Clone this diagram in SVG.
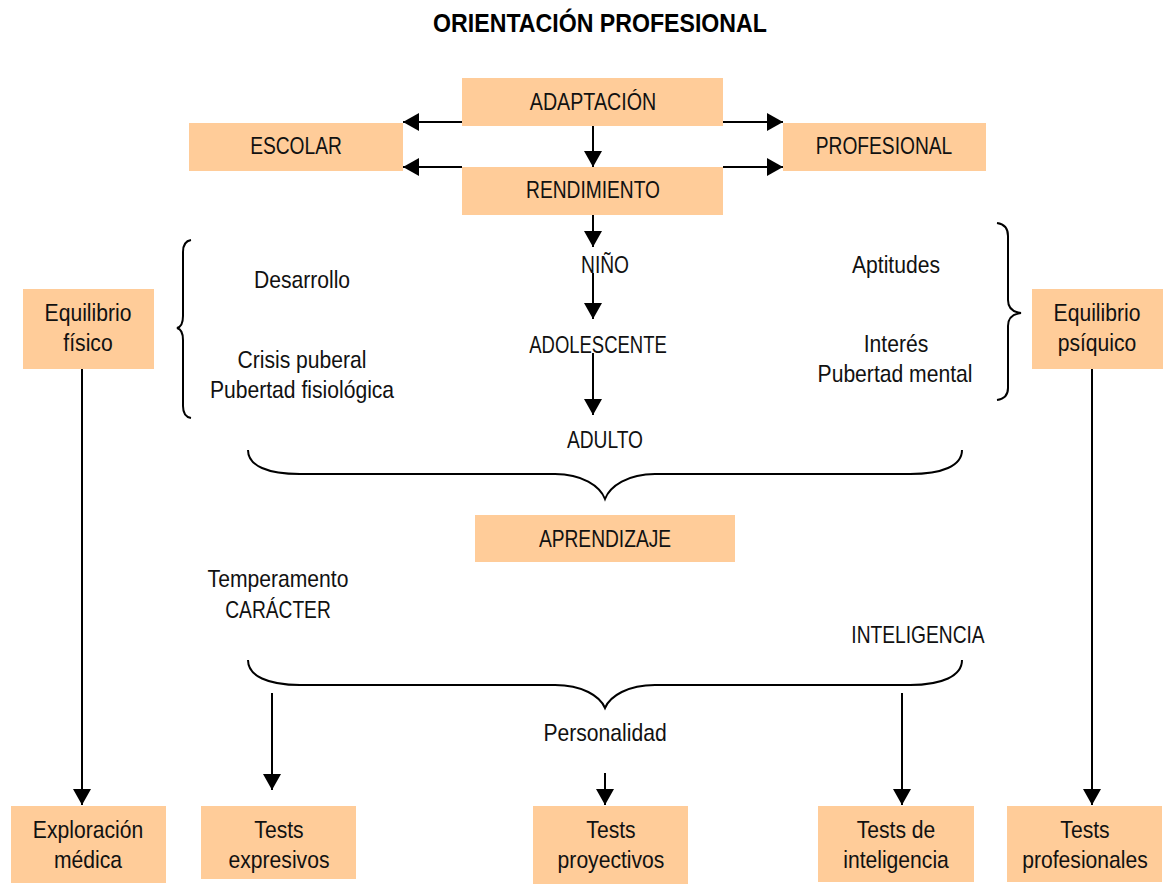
<svg xmlns="http://www.w3.org/2000/svg" width="1173" height="885" viewBox="0 0 1173 885">
  <style>
    .box { fill: #FFCC99; stroke: none; }
    .t { font-family: "Liberation Sans", Arial, sans-serif; font-size: 24px; fill: #111; text-anchor: middle; }
    .title { font-family: "Liberation Sans", Arial, sans-serif; font-size: 26px; font-weight: bold; fill: #000; text-anchor: middle; }
    .ln { stroke: #000; stroke-width: 2; fill: none; }
    .arr { stroke: #000; stroke-width: 2; fill: none; marker-end: url(#head); }
  </style>
  <defs>
    <marker id="head" viewBox="0 0 16 18" refX="16" refY="9" markerWidth="16" markerHeight="18" markerUnits="userSpaceOnUse" orient="auto">
      <path d="M0,0 L16,9 L0,18 Z" fill="#000"/>
    </marker>
  </defs>
  <rect width="1173" height="885" fill="#fff"/>

  <text class="title" transform="translate(600 32) scale(0.89 1)">ORIENTACIÓN PROFESIONAL</text>

  <!-- connectors -->
  <g id="connectors">
    <line class="arr" x1="462" y1="122" x2="403" y2="122"/>
    <line class="arr" x1="462" y1="167" x2="403" y2="167"/>
    <line class="arr" x1="723" y1="122" x2="783" y2="122"/>
    <line class="arr" x1="723" y1="167" x2="783" y2="167"/>
    <line class="arr" x1="593" y1="126" x2="593" y2="167"/>
    <line class="arr" x1="593" y1="215" x2="593" y2="247"/>
    <line class="arr" x1="593" y1="273" x2="593" y2="319"/>
    <line class="arr" x1="593" y1="353" x2="593" y2="415"/>
    <line class="arr" x1="82" y1="369" x2="82" y2="805"/>
    <line class="arr" x1="1092" y1="369" x2="1092" y2="805"/>
    <line class="arr" x1="272" y1="693" x2="272" y2="790"/>
    <line class="arr" x1="605" y1="773" x2="605" y2="805"/>
    <line class="arr" x1="902" y1="693" x2="902" y2="805"/>
    <!-- braces -->
    <path class="ln" d="M191,240 C185,241 183,245 183,252 L183,316 C183,323 181,327 177,328 C181,329 183,333 183,340 L183,406 C183,413 185,417 191,418"/>
    <path class="ln" d="M997,223 C1004,224 1008,228 1008,236 L1008,300 C1008,308 1012,312 1021,313 C1012,314 1008,318 1008,326 L1008,388 C1008,396 1004,399 997,400"/>
    <path class="ln" d="M248,450 C248,466 268,474 300,474 L555,474 C582,474 600,486 605,499 C610,486 628,474 655,474 L910,474 C942,474 962,466 962,450"/>
    <path class="ln" d="M248,660 C248,676 268,685 300,685 L555,685 C582,685 600,696 605,708 C610,696 628,685 655,685 L910,685 C942,685 962,676 962,660"/>
  </g>

  <g id="adaptacion">
    <rect class="box" x="462" y="78" width="261" height="48"/>
    <text class="t" transform="translate(593 110) scale(0.82 1)">ADAPTACIÓN</text>
  </g>
  <g id="escolar">
    <rect class="box" x="189" y="123" width="214" height="48"/>
    <text class="t" transform="translate(296 154) scale(0.8 1)">ESCOLAR</text>
  </g>
  <g id="profesional">
    <rect class="box" x="783" y="123" width="203" height="48"/>
    <text class="t" transform="translate(884 154) scale(0.8 1)">PROFESIONAL</text>
  </g>
  <g id="rendimiento">
    <rect class="box" x="462" y="167" width="261" height="48"/>
    <text class="t" transform="translate(593 198) scale(0.8 1)">RENDIMIENTO</text>
  </g>

  <g id="nino"><text class="t" transform="translate(605 273) scale(0.8 1)">NIÑO</text></g>
  <g id="adolescente"><text class="t" transform="translate(598 353) scale(0.77 1)">ADOLESCENTE</text></g>
  <g id="adulto"><text class="t" transform="translate(605 448) scale(0.8 1)">ADULTO</text></g>

  <g id="desarrollo">
    <text class="t" transform="translate(302 288) scale(0.88 1)">Desarrollo</text>
    <text class="t" transform="translate(302 368) scale(0.88 1)">Crisis puberal</text>
    <text class="t" transform="translate(302 398) scale(0.88 1)">Pubertad fisiológica</text>
  </g>
  <g id="aptitudes">
    <text class="t" transform="translate(896 273) scale(0.88 1)">Aptitudes</text>
    <text class="t" transform="translate(896 352) scale(0.88 1)">Interés</text>
    <text class="t" transform="translate(895 382) scale(0.88 1)">Pubertad mental</text>
  </g>

  <g id="equilibrio-fisico">
    <rect class="box" x="23" y="289" width="131" height="80"/>
    <text class="t" transform="translate(88 321) scale(0.88 1)">Equilibrio</text>
    <text class="t" transform="translate(88 351) scale(0.88 1)">físico</text>
  </g>
  <g id="equilibrio-psiquico">
    <rect class="box" x="1032" y="289" width="131" height="80"/>
    <text class="t" transform="translate(1097 321) scale(0.88 1)">Equilibrio</text>
    <text class="t" transform="translate(1097 351) scale(0.88 1)">psíquico</text>
  </g>

  <g id="aprendizaje">
    <rect class="box" x="475" y="515" width="260" height="47"/>
    <text class="t" transform="translate(605 547) scale(0.8 1)">APRENDIZAJE</text>
  </g>

  <g id="caracter">
    <text class="t" transform="translate(278 587) scale(0.88 1)">Temperamento</text>
    <text class="t" transform="translate(278 618) scale(0.8 1)">CARÁCTER</text>
  </g>
  <g id="inteligencia"><text class="t" transform="translate(918 643) scale(0.8 1)">INTELIGENCIA</text></g>
  <g id="personalidad"><text class="t" transform="translate(605 741) scale(0.88 1)">Personalidad</text></g>

  <g id="exploracion-medica">
    <rect class="box" x="11" y="806" width="155" height="77"/>
    <text class="t" transform="translate(88 838) scale(0.88 1)">Exploración</text>
    <text class="t" transform="translate(88 868) scale(0.88 1)">médica</text>
  </g>
  <g id="tests-expresivos">
    <rect class="box" x="201" y="806" width="155" height="73"/>
    <text class="t" transform="translate(279 838) scale(0.88 1)">Tests</text>
    <text class="t" transform="translate(279 868) scale(0.88 1)">expresivos</text>
  </g>
  <g id="tests-proyectivos">
    <rect class="box" x="533" y="806" width="155" height="78"/>
    <text class="t" transform="translate(611 838) scale(0.88 1)">Tests</text>
    <text class="t" transform="translate(611 868) scale(0.88 1)">proyectivos</text>
  </g>
  <g id="tests-inteligencia">
    <rect class="box" x="818" y="806" width="156" height="76"/>
    <text class="t" transform="translate(896 838) scale(0.88 1)">Tests de</text>
    <text class="t" transform="translate(896 868) scale(0.88 1)">inteligencia</text>
  </g>
  <g id="tests-profesionales">
    <rect class="box" x="1007" y="806" width="155" height="76"/>
    <text class="t" transform="translate(1085 838) scale(0.88 1)">Tests</text>
    <text class="t" transform="translate(1085 868) scale(0.88 1)">profesionales</text>
  </g>
</svg>
